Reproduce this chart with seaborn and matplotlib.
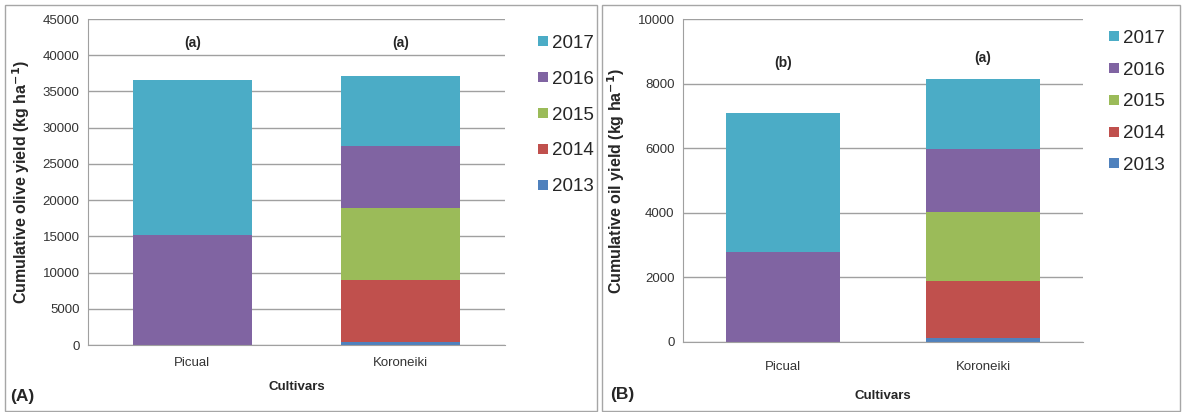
import matplotlib
matplotlib.use("Agg")
import matplotlib.pyplot as plt
from matplotlib.patches import Rectangle
from matplotlib.lines import Line2D
import seaborn as sns
import pandas as pd
import numpy as np

sns.set_style("white")
plt.rcParams['font.family'] = ['Liberation Sans', 'DejaVu Sans']

cultivars = ["Picual", "Koroneiki"]
years = ["2013", "2014", "2015", "2016", "2017"]
colors = ["#4F81BD", "#C0504D", "#9BBB59", "#8064A2", "#4BACC6"]

# olive yield (kg/ha) per year, per cultivar [Picual, Koroneiki]
olive_2013 = [0, 450]
olive_2014 = [0, 8550]
olive_2015 = [0, 9900]
olive_2016 = [15200, 8600]
olive_2017 = [21400, 9600]
olive_letters = ["(a)", "(a)"]
olive_letter_y = [41700, 41700]

# oil yield (kg/ha)
oil_2013 = [0, 120]
oil_2014 = [0, 1780]
oil_2015 = [0, 2130]
oil_2016 = [2780, 1930]
oil_2017 = [4320, 2170]
oil_letters = ["(b)", "(a)"]
oil_letter_y = [8630, 8800]

fig = plt.figure(figsize=(11.84, 4.12), dpi=100)

# panel borders
for (x0, x1) in [(5, 597), (602, 1180)]:
    fig.patches.append(Rectangle((x0 / 1184, 1 / 412), (x1 - x0) / 1184, 406 / 412,
                                 transform=fig.transFigure, fill=False,
                                 edgecolor="#a6a6a6", linewidth=1.0))

def panel(rect, series, ymax, ystep, ylabel, letters, letter_y, tag, tag_pos,
          leg_anchor, leg_space, xpad, xlabpad):
    ax = fig.add_axes(rect)
    df = pd.DataFrame({y: s for y, s in zip(years, series)}, index=cultivars)
    cum = df.cumsum(axis=1)
    for i in range(len(years) - 1, -1, -1):
        d = pd.DataFrame({"cultivar": cultivars, "value": cum[years[i]].values})
        sns.barplot(data=d, x="cultivar", y="value", order=cultivars, color=colors[i],
                    width=0.57, saturation=1, ax=ax, linewidth=0)
    ax.set_xlim(-0.5, 1.5)
    ax.set_ylim(0, ymax)
    ax.set_yticks(np.arange(0, ymax + 1, ystep))
    ax.yaxis.grid(True, color="#a0a0a0", linewidth=1.0)
    ax.set_axisbelow(True)
    for s in ["top", "right"]:
        ax.spines[s].set_visible(False)
    ax.spines["left"].set_color("#a0a0a0")
    ax.spines["bottom"].set_color("#a0a0a0")
    ax.tick_params(axis="y", length=0, labelsize=9.5, colors="#333333", pad=6)
    ax.tick_params(axis="x", length=0, labelsize=9.5, colors="#333333", pad=xpad)
    ax.set_ylabel(ylabel, fontsize=11.5, fontweight="bold", labelpad=8)
    ax.set_xlabel("Cultivars", fontsize=9.5, fontweight="bold", labelpad=xlabpad)
    for xi, (t, yv) in enumerate(zip(letters, letter_y)):
        ax.text(xi, yv, t, ha="center", va="center", fontsize=10, fontweight="bold")
    handles = [Line2D([], [], marker="s", linestyle="none", markersize=6.5,
                      markerfacecolor=colors[i], markeredgewidth=0, label=years[i])
               for i in range(len(years) - 1, -1, -1)]
    ax.legend(handles=handles, loc="upper left", bbox_to_anchor=leg_anchor, frameon=False,
              fontsize=13.5, handlelength=0.6, handletextpad=0.15, labelspacing=leg_space,
              borderaxespad=0)
    fig.text(tag_pos[0], tag_pos[1], tag, fontsize=12.5, fontweight="bold", ha="left", va="center")
    return ax

panel([88 / 1184, 1 - 345 / 412, (505 - 88) / 1184, (345 - 19) / 412],
      [olive_2013, olive_2014, olive_2015, olive_2016, olive_2017], 45000, 5000,
      "Cumulative olive yield (kg ha$^{\\mathbf{-1}}$)", olive_letters, olive_letter_y,
      "(A)", (10 / 1184, 1 - 397 / 412), (1.06, 0.975), 1.0, 9, 8)

panel([683 / 1184, 1 - 342 / 412, (1083 - 683) / 1184, (342 - 19) / 412],
      [oil_2013, oil_2014, oil_2015, oil_2016, oil_2017], 10000, 2000,
      "Cumulative oil yield (kg ha$^{\\mathbf{-1}}$)", oil_letters, oil_letter_y,
      "(B)", (610 / 1184, 1 - 395 / 412), (1.045, 0.99), 0.78, 14, 12)

fig.savefig("out.png", dpi=100)
